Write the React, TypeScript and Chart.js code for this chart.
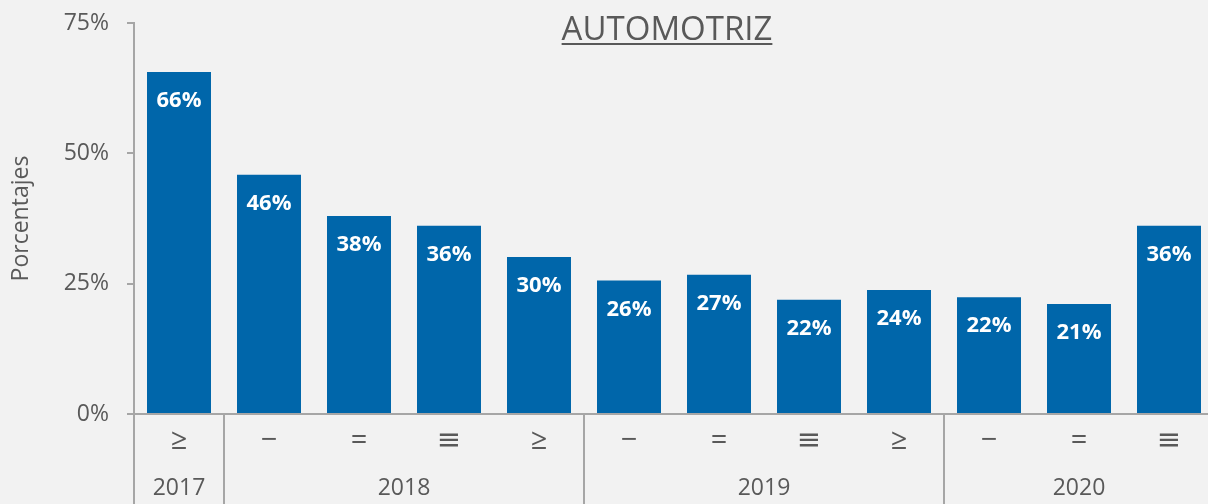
import { useEffect, useRef } from 'react';
import { Chart, registerables } from 'chart.js';

Chart.register(...registerables);

const quarterLabels = ['≥', '−', '=', '≡', '≥', '−', '=', '≡', '≥', '−', '=', '≡'];
const values = [65.6, 45.9, 38.0, 36.1, 30.1, 25.6, 26.7, 21.9, 23.8, 22.4, 21.1, 36.1];
const years = ['2017', '2018', '2019', '2020'];
const yearSpans = [1, 4, 4, 3];
const yTicks = [0, 25, 50, 75];
const chartTitle = 'AUTOMOTRIZ';
const yAxisTitle = 'Porcentajes';

const FONT = '"Open Sans", "DejaVu Sans", sans-serif';
const TEXT = '#595959';
const AXIS = '#a6a6a6';
const BAR = '#0066aa';
const BG = '#f2f2f2';

const W = 1216;
const H = 504;

const bgPlugin = {
  id: 'bg',
  beforeDraw(chart: any) {
    const { ctx } = chart;
    ctx.save();
    ctx.fillStyle = BG;
    ctx.fillRect(0, 0, chart.width, chart.height);
    ctx.restore();
  },
};

const labelPlugin = {
  id: 'barLabels',
  afterDatasetsDraw(chart: any) {
    const { ctx } = chart;
    const meta = chart.getDatasetMeta(0);
    ctx.save();
    ctx.fillStyle = '#ffffff';
    ctx.font = `bold 22px ${FONT}`;
    ctx.textAlign = 'center';
    ctx.textBaseline = 'middle';
    meta.data.forEach((bar: any, i: number) => {
      ctx.fillText(`${Math.round(values[i])}%`, bar.x, bar.y + 29);
    });
    ctx.restore();
  },
};

const extrasPlugin = {
  id: 'extras',
  afterDraw(chart: any) {
    const { ctx, chartArea } = chart;
    const x = chart.scales.x;
    const n = quarterLabels.length;
    const cw = (x.right - x.left) / n;
    ctx.save();
    // group separators
    ctx.strokeStyle = AXIS;
    ctx.lineWidth = 2;
    let cum = 0;
    const bounds = [x.left];
    yearSpans.forEach((s) => {
      cum += s;
      bounds.push(x.left + cw * cum);
    });
    bounds.forEach((bx, i) => {
      if (i === bounds.length - 1) return;
      ctx.beginPath();
      ctx.moveTo(Math.round(bx), chartArea.bottom);
      ctx.lineTo(Math.round(bx), chart.height);
      ctx.stroke();
    });
    // year labels
    ctx.fillStyle = TEXT;
    ctx.font = `23px ${FONT}`;
    ctx.textAlign = 'center';
    ctx.textBaseline = 'middle';
    years.forEach((yr, i) => {
      const cx = (bounds[i] + bounds[i + 1]) / 2;
      ctx.fillText(yr, cx, 488);
    });
    // title with underline
    ctx.font = `33px ${FONT}`;
    ctx.textBaseline = 'alphabetic';
    const tx = 667;
    ctx.fillText(chartTitle, tx, 39.5);
    const tw = ctx.measureText(chartTitle).width;
    ctx.beginPath();
    ctx.strokeStyle = TEXT;
    ctx.lineWidth = 2;
    ctx.moveTo(tx - tw / 2, 44);
    ctx.lineTo(tx + tw / 2, 44);
    ctx.stroke();
    ctx.restore();
  },
};

export default function App() {
  const ref = useRef<HTMLCanvasElement | null>(null);
  useEffect(() => {
    if (!ref.current) return;
    const chart = new Chart(ref.current, {
      type: 'bar',
      data: {
        labels: quarterLabels,
        datasets: [
          {
            data: values,
            backgroundColor: BAR,
            borderWidth: 0,
            categoryPercentage: 1,
            barPercentage: 0.711,
          },
        ],
      },
      options: {
        animation: false,
        responsive: false,
        layout: { padding: { left: 0, right: 2, top: 23, bottom: 0 } },
        plugins: {
          legend: { display: false },
          tooltip: { enabled: false },
          title: { display: false },
        },
        scales: {
          x: {
            type: 'category',
            grid: { display: false },
            border: { display: true, color: AXIS, width: 2 },
            ticks: {
              color: TEXT,
              font: { family: FONT, size: 29 },
              padding: 1,
              maxRotation: 0,
              autoSkip: false,
            },
            afterFit(scale: any) {
              scale.height = 90;
              scale.paddingLeft = 0;
              scale.paddingRight = 0;
            },
          },
          y: {
            min: 0,
            max: 75,
            afterBuildTicks(scale: any) {
              scale.ticks = yTicks.map((v) => ({ value: v }));
            },
            grid: {
              display: true,
              drawOnChartArea: false,
              drawTicks: true,
              tickLength: 7,
              color: AXIS,
              lineWidth: 2,
            },
            border: { display: true, color: AXIS, width: 2 },
            ticks: {
              color: TEXT,
              font: { family: FONT, size: 23 },
              padding: 18,
              callback: (v: any) => `${v}%`,
            },
            title: {
              display: true,
              text: yAxisTitle,
              color: TEXT,
              font: { family: FONT, size: 23 },
              padding: { top: 8, bottom: 0 },
            },
            afterFit(scale: any) {
              scale.width = 134;
              scale.paddingTop = 0;
              scale.paddingBottom = 0;
            },
          },
        },
      },
      plugins: [bgPlugin, labelPlugin, extrasPlugin],
    });
    return () => chart.destroy();
  }, []);
  return (
    <div
      style={{
        position: 'fixed',
        left: 0,
        top: 0,
        width: 1208,
        height: 504,
        overflow: 'hidden',
        background: BG,
      }}
    >
      <canvas ref={ref} width={W} height={H} style={{ display: 'block', width: W, height: H }} />
    </div>
  );
}
